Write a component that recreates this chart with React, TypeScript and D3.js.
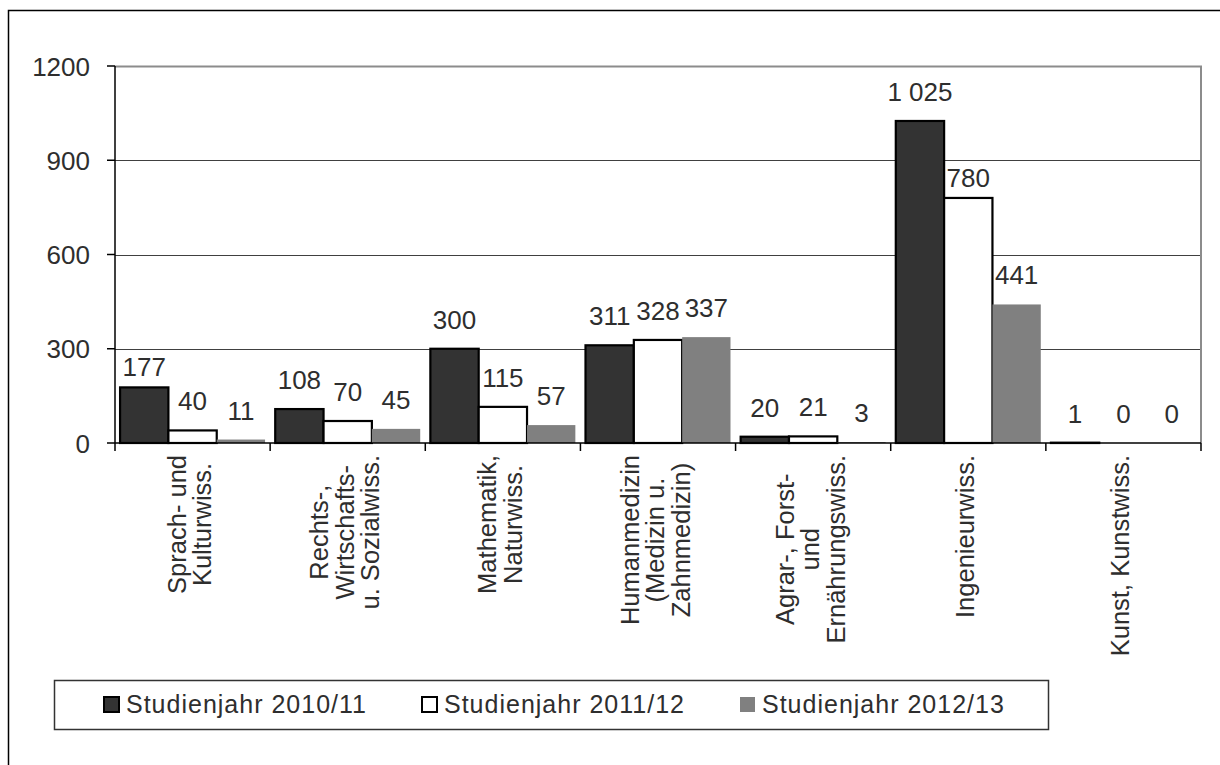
import { useEffect, useRef } from 'react';
import * as d3 from 'd3';

const categories = [
  ['Sprach- und', 'Kulturwiss.'],
  ['Rechts-,', 'Wirtschafts-', 'u. Sozialwiss.'],
  ['Mathematik,', 'Naturwiss.'],
  ['Humanmedizin', '(Medizin u.', 'Zahnmedizin)'],
  ['Agrar-, Forst-', 'und', 'Ernährungswiss.'],
  ['Ingenieurwiss.'],
  ['Kunst, Kunstwiss.'],
];
const seriesNames = ['Studienjahr 2010/11', 'Studienjahr 2011/12', 'Studienjahr 2012/13'];
const values2010 = [177, 108, 300, 311, 20, 1025, 1];
const values2011 = [40, 70, 115, 328, 21, 780, 0];
const values2012 = [11, 45, 57, 337, 3, 441, 0];
const yTicks = [0, 300, 600, 900, 1200];

const W = 1220;
const H = 765;
const plot = { left: 115, right: 1201, top: 66, bottom: 443 };
const FONT = '"Liberation Sans", Arial, sans-serif';
const TEXT = '#2e2e2e';
const fills = ['#333333', '#ffffff', '#808080'];
const strokes = ['#000000', '#000000', 'none'];

const fmt = d3.formatLocale({ decimal: ',', thousands: ' ', grouping: [3], currency: ['', ''] }).format(',');

export default function App() {
  const ref = useRef<SVGSVGElement>(null);

  useEffect(() => {
    const svg = d3.select(ref.current);
    svg.selectAll('*').remove();
    const series = [values2010, values2011, values2012];
    const keys = categories.map((c) => c.join(' '));

    const x0 = d3.scaleBand<string>().domain(keys).range([plot.left, plot.right]).padding(0);
    const x1 = d3
      .scaleBand<number>()
      .domain([0, 1, 2])
      .range([0, x0.bandwidth()])
      .paddingInner(0)
      .paddingOuter(0.105);
    const y = d3.scaleLinear().domain([0, 1200]).range([plot.bottom, plot.top]);

    // outer frame (runs off the right and bottom edge)
    svg
      .append('rect')
      .attr('x', 8.5)
      .attr('y', 10.5)
      .attr('width', W + 20)
      .attr('height', H + 20)
      .attr('fill', 'none')
      .attr('stroke', '#000')
      .attr('stroke-width', 1.5);

    // gridlines
    svg
      .append('g')
      .selectAll('line')
      .data(yTicks.filter((t) => t > 0 && t < 1200))
      .join('line')
      .attr('x1', plot.left)
      .attr('x2', plot.right)
      .attr('y1', (d) => Math.round(y(d)) + 0.5)
      .attr('y2', (d) => Math.round(y(d)) + 0.5)
      .attr('stroke', '#404040')
      .attr('stroke-width', 1.2);

    // plot border top/right
    svg
      .append('path')
      .attr('d', `M${plot.left},${plot.top + 0.5}H${plot.right}V${plot.bottom}`)
      .attr('fill', 'none')
      .attr('stroke', '#8c8c8c')
      .attr('stroke-width', 2);

    // bars
    const groups = svg
      .append('g')
      .selectAll('g')
      .data(keys)
      .join('g')
      .attr('transform', (d) => `translate(${x0(d)},0)`);

    groups
      .selectAll('rect')
      .data((_, ci) => series.map((s, si) => ({ si, v: s[ci] })))
      .join('rect')
      .attr('x', (d) => x1(d.si)!)
      .attr('y', (d) => y(d.v))
      .attr('width', x1.bandwidth())
      .attr('height', (d) => plot.bottom - y(d.v))
      .attr('fill', (d) => fills[d.si])
      .attr('stroke', (d) => (d.v > 0 ? strokes[d.si] : 'none'))
      .attr('stroke-width', 2.2);

    // value labels, nudged below a gridline they would hit
    const gridYs = yTicks.filter((t) => t > 0).map((t) => y(t));
    groups
      .selectAll('text')
      .data((_, ci) => series.map((s, si) => ({ si, v: s[ci] })))
      .join('text')
      .attr('x', (d) => x1(d.si)! + x1.bandwidth() / 2)
      .attr('y', (d) => {
        let base = y(d.v) - 20;
        const top = base - 18;
        for (const gy of gridYs) {
          if (gy > top - 2 && gy < base + 2) base = gy + 27;
        }
        return base;
      })
      .attr('text-anchor', 'middle')
      .attr('font-family', FONT)
      .attr('font-size', 26)
      .attr('fill', TEXT)
      .text((d) => fmt(d.v));

    // axes
    svg
      .append('line')
      .attr('x1', plot.left)
      .attr('x2', plot.left)
      .attr('y1', plot.top)
      .attr('y2', plot.bottom)
      .attr('stroke', '#000')
      .attr('stroke-width', 1.5);
    svg
      .append('line')
      .attr('x1', plot.left)
      .attr('x2', plot.right)
      .attr('y1', plot.bottom)
      .attr('y2', plot.bottom)
      .attr('stroke', '#000')
      .attr('stroke-width', 1.5);

    const yAxis = svg.append('g');
    yAxis
      .selectAll('line')
      .data(yTicks)
      .join('line')
      .attr('x1', plot.left - 8)
      .attr('x2', plot.left)
      .attr('y1', (d) => y(d))
      .attr('y2', (d) => y(d))
      .attr('stroke', '#000')
      .attr('stroke-width', 1.5);
    yAxis
      .selectAll('text')
      .data(yTicks)
      .join('text')
      .attr('x', 90)
      .attr('y', (d) => y(d) + 9.5)
      .attr('text-anchor', 'end')
      .attr('font-family', FONT)
      .attr('font-size', 26)
      .attr('fill', TEXT)
      .text((d) => String(d));

    const tickXs = keys.map((k) => x0(k)!).concat([plot.right]);
    svg
      .append('g')
      .selectAll('line')
      .data(tickXs)
      .join('line')
      .attr('x1', (d) => d)
      .attr('x2', (d) => d)
      .attr('y1', plot.bottom)
      .attr('y2', plot.bottom + 8)
      .attr('stroke', '#000')
      .attr('stroke-width', 1.5);

    // category labels, rotated, lines centred, block ends under the axis
    const lineH = 25.5;
    const catG = svg.append('g');
    categories.forEach((lines, ci) => {
      const cx = x0(keys[ci])! + x0.bandwidth() / 2;
      const texts = lines.map((l) =>
        catG
          .append('text')
          .attr('font-family', FONT)
          .attr('font-size', 25.5)
          .attr('fill', TEXT)
          .attr('text-anchor', 'middle')
          .text(l),
      );
      const maxW = d3.max(texts, (t) => (t.node() as SVGTextElement).getComputedTextLength()) ?? 0;
      const cy = plot.bottom + 12 + maxW / 2;
      texts.forEach((t, li) => {
        const lx = cx + (li - (lines.length - 1) / 2) * lineH + 6;
        t.attr('transform', `translate(${lx},${cy}) rotate(-90)`);
      });
    });

    // legend
    const leg = svg.append('g');
    leg
      .append('rect')
      .attr('x', 54.5)
      .attr('y', 680.5)
      .attr('width', 994)
      .attr('height', 49)
      .attr('fill', '#fff')
      .attr('stroke', '#333')
      .attr('stroke-width', 1.5);
    const items = leg
      .selectAll('g.item')
      .data(seriesNames)
      .join('g')
      .attr('class', 'item')
      .attr('transform', (_, i) => `translate(${104 + i * 318},697)`);
    items
      .append('rect')
      .attr('width', 15)
      .attr('height', 15)
      .attr('fill', (_, i) => fills[i])
      .attr('stroke', (_, i) => (strokes[i] === 'none' ? 'none' : '#000'))
      .attr('stroke-width', 2);
    items
      .append('text')
      .attr('x', 22)
      .attr('y', 16)
      .attr('font-family', FONT)
      .attr('font-size', 25)
      .attr('letter-spacing', 1)
      .attr('fill', TEXT)
      .text((d) => d);
  }, []);

  return (
    <svg
      ref={ref}
      width={W}
      height={H}
      style={{ position: 'absolute', left: 0, top: 0, background: '#fff' }}
    />
  );
}
